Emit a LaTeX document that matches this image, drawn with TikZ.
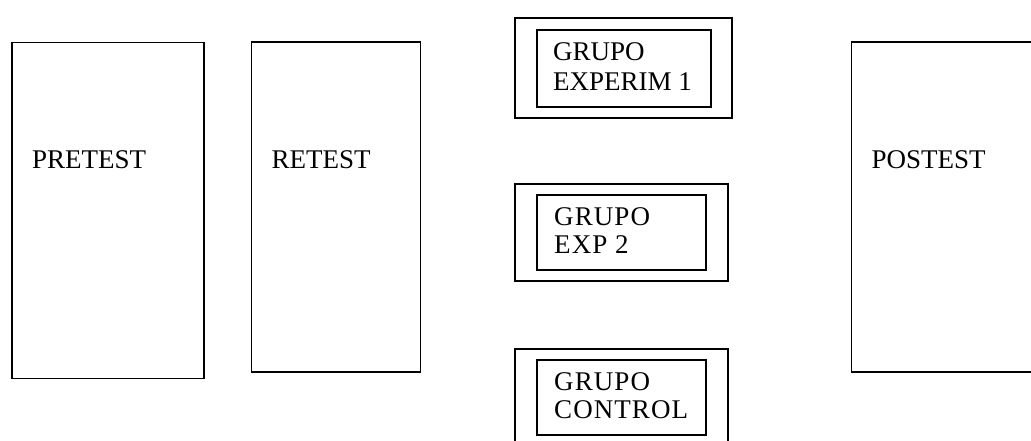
\documentclass[tikz,border=0pt]{standalone}
\usepackage{fontspec}
\setmainfont{Liberation Serif}
\begin{document}
\begin{tikzpicture}[x=1pt,y=-1pt,
  box/.style={draw=black, line width=1.8pt, rectangle, inner sep=0pt, anchor=north west},
  lbl/.style={anchor=base west, inner sep=0pt, font=\fontsize{27}{30}\selectfont},
  wlbl/.style={anchor=base west, inner sep=0pt, font=\fontsize{27}{30}\selectfont\addfontfeature{LetterSpace=4}}]
\useasboundingbox (0,0) rectangle (1031,440);
\clip (0,0) rectangle (1031,440);
% large boxes
\node[box, minimum width=192pt, minimum height=336pt] (pre) at (11,41.5) {};
\node[box, minimum width=169pt, minimum height=330pt] (re) at (250.5,41) {};
\node[box, minimum width=200pt, minimum height=330pt] (post) at (850.5,41) {};
\node[lbl] (pret) at (32,168) {PRETEST};
\node[lbl] (ret) at (271.5,168) {RETEST};
\node[lbl] (postt) at (871.5,168) {POSTEST};
% group 1
\node[box, minimum width=217pt, minimum height=100pt] (g1o) at (514,17) {};
\node[box, minimum width=174pt, minimum height=77pt] (g1i) at (535.7,29) {};
\node[lbl] (g1a) at (553,60.7) {GRUPO};
\node[lbl] (g1b) at (553,90.7) {EXPERIM 1};
% group 2
\node[box, minimum width=213pt, minimum height=97pt] (g2o) at (514,183) {};
\node[box, minimum width=169pt, minimum height=75pt] (g2i) at (535.7,194) {};
\node[wlbl] (g2a) at (554,225) {GRUPO};
\node[wlbl] (g2b) at (554,253.3) {EXP 2};
% group 3
\node[box, minimum width=213pt, minimum height=110pt] (g3o) at (514,348) {};
\node[box, minimum width=169pt, minimum height=75pt] (g3i) at (535.7,359) {};
\node[wlbl] (g3a) at (554,390) {GRUPO};
\node[wlbl] (g3b) at (554,418.3) {CONTROL};
\end{tikzpicture}
\end{document}
